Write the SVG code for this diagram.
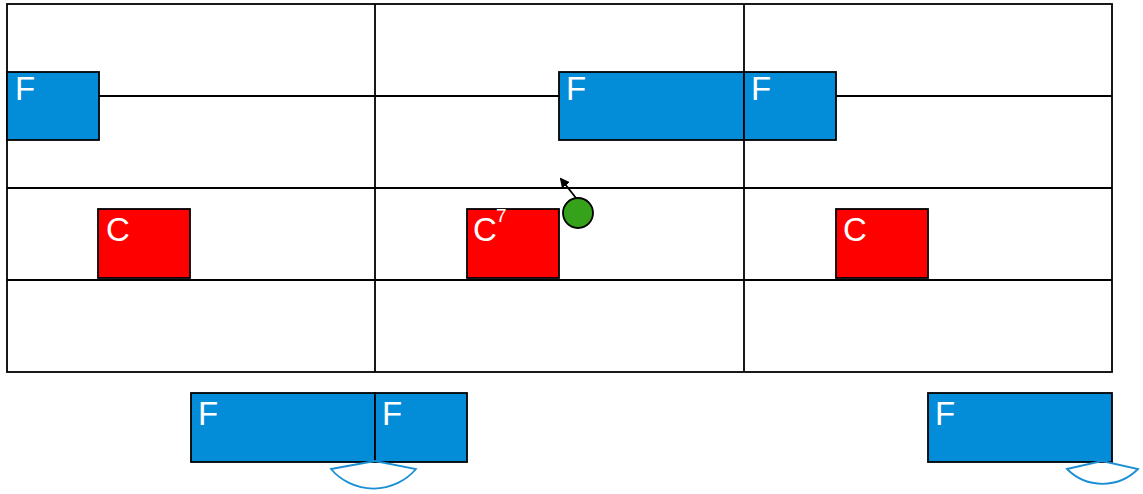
<svg xmlns="http://www.w3.org/2000/svg" width="1143" height="494" viewBox="0 0 1143 494">
<style>
.grid{fill:none;stroke:#000;stroke-width:1.8}
.f{fill:#038cd8;stroke:#000;stroke-width:1.8}
.c{fill:#ff0000;stroke:#000;stroke-width:1.8}
.t{font-family:"Liberation Sans",Arial,sans-serif;font-size:33px;fill:#fff}
.sup{font-family:"Liberation Sans",Arial,sans-serif;font-size:19px;fill:#fff}
.arc{fill:none;stroke:#1a8fd6;stroke-width:1.8}
</style>
<defs>
<marker id="ah" markerWidth="10" markerHeight="10" refX="8" refY="5" orient="auto" markerUnits="userSpaceOnUse">
<path d="M0,0 L10,5 L0,10 Z" fill="#000"/>
</marker>
</defs>
<rect width="1143" height="494" fill="#fff"/>
<g id="grid">
<rect class="grid" x="7" y="4" width="1105" height="368"/>
<line class="grid" x1="375" y1="4" x2="375" y2="372"/>
<line class="grid" x1="744" y1="4" x2="744" y2="372"/>
<line class="grid" x1="7" y1="96" x2="1112" y2="96"/>
<line class="grid" x1="7" y1="188" x2="1112" y2="188"/>
<line class="grid" x1="7" y1="280" x2="1112" y2="280"/>
</g>
<g id="f1"><rect class="f" x="7" y="72" width="92" height="68"/><text class="t" x="15" y="100">F</text></g>
<g id="f2"><rect class="f" x="559" y="72" width="185" height="68"/><text class="t" x="566" y="100">F</text></g>
<g id="f3"><rect class="f" x="744" y="72" width="92" height="68"/><text class="t" x="751" y="100">F</text></g>
<g id="c1"><rect class="c" x="98" y="209" width="92" height="69"/><text class="t" x="106" y="241">C</text></g>
<g id="c7"><rect class="c" x="467" y="209" width="92" height="69"/><text class="t" x="473" y="241">C</text><text class="sup" x="496" y="222">7</text></g>
<g id="c2"><rect class="c" x="836" y="209" width="92" height="69"/><text class="t" x="843" y="241">C</text></g>
<g id="f4"><rect class="f" x="191" y="393" width="184" height="69"/><text class="t" x="198" y="425">F</text></g>
<g id="f5"><rect class="f" x="375" y="393" width="92" height="69"/><text class="t" x="382" y="425">F</text></g>
<g id="f6"><rect class="f" x="928" y="393" width="184" height="69"/><text class="t" x="935" y="425">F</text></g>
<g id="marker1"><circle cx="578" cy="213" r="15" fill="#36a11a" stroke="#000" stroke-width="1.8"/></g>
<g id="connectors">
<line x1="576" y1="198" x2="561" y2="179" stroke="#000" stroke-width="1.8" marker-end="url(#ah)"/>
<path class="arc" d="M331,469 L375,461 L416,469 A56 56 0 0 1 331,469 Z"/>
<path class="arc" d="M1067,469 L1102,461 L1138,469 A50 50 0 0 1 1067,469 Z"/>
</g>
</svg>
